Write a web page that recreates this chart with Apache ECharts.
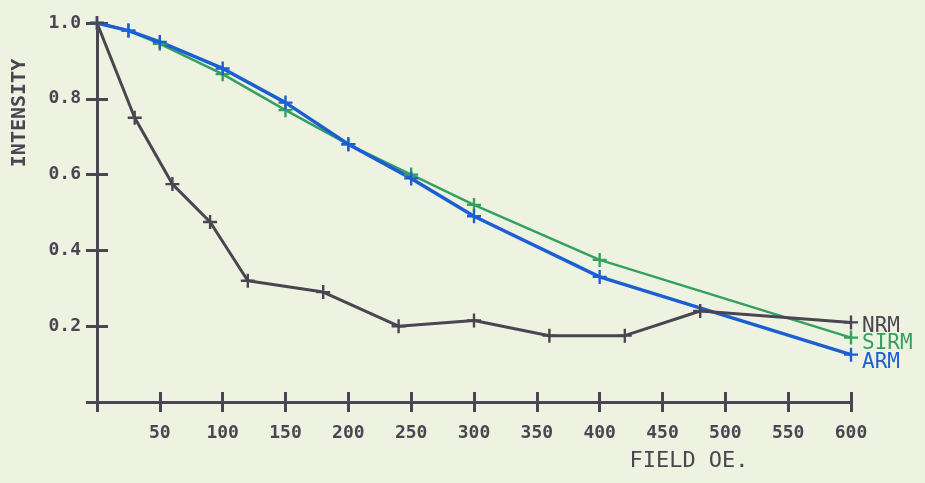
<!DOCTYPE html>
<html>
<head>
<meta charset="utf-8">
<style>
  html, body { margin: 0; padding: 0; background: #eef3e1; }
  #chart { width: 925px; height: 483px; }
</style>
<script src="https://cdn.jsdelivr.net/npm/echarts@6/dist/echarts.min.js"></script>
</head>
<body>
<div id="chart"></div>
<script>
// Alternating-field demagnetisation curves (normalised intensity vs. peak field)
const nrmField = [0, 30, 60, 90, 120, 180, 240, 300, 360, 420, 480, 600];
const nrmIntensity = [1.0, 0.75, 0.575, 0.475, 0.32, 0.29, 0.20, 0.215, 0.175, 0.175, 0.24, 0.21];

const labField = [0, 25, 50, 100, 150, 200, 250, 300, 400, 600];
const sirmIntensity = [1.0, 0.98, 0.945, 0.865, 0.77, 0.68, 0.60, 0.52, 0.375, 0.17];
const armIntensity = [1.0, 0.98, 0.95, 0.88, 0.79, 0.68, 0.59, 0.49, 0.33, 0.125];

const fieldTicks = [50, 100, 150, 200, 250, 300, 350, 400, 450, 500, 550, 600];
const intensityTicks = [0.2, 0.4, 0.6, 0.8, 1.0];

const INK = '#4a4550';
const GREEN = '#34a060';
const BLUE = '#1c5fd2';
const MONO = '"DejaVu Sans Mono", "Liberation Mono", monospace';

// plotter-style "+" marker
const PLUS = 'path://M-0.17,-1 L0.17,-1 L0.17,-0.17 L1,-0.17 L1,0.17 L0.17,0.17 L0.17,1 L-0.17,1 L-0.17,0.17 L-1,0.17 L-1,-0.17 L-0.17,-0.17 Z';

const pairs = (xs, ys) => xs.map((x, i) => [x, ys[i]]);

function curve(name, xs, ys, color, width, dy) {
  return {
    name: name,
    type: 'line',
    xAxisIndex: 0,
    yAxisIndex: 0,
    data: pairs(xs, ys),
    symbol: PLUS,
    symbolSize: 14,
    showAllSymbol: true,
    itemStyle: { color: color },
    lineStyle: { color: color, width: width },
    endLabel: {
      show: true,
      formatter: '{a}',
      color: color,
      fontFamily: MONO,
      fontSize: 21,
      distance: 11,
      offset: [0, dy]
    },
    z: 3
  };
}

const xBase = {
  type: 'value', min: 0, max: 600, interval: 50,
  splitLine: { show: false },
  position: 'bottom'
};
const yBase = {
  type: 'value', min: 0, max: 1.0, interval: 0.2,
  splitLine: { show: false },
  position: 'left'
};

const chart = echarts.init(document.getElementById('chart'), null, { renderer: 'canvas' });
chart.setOption({
  animation: false,
  backgroundColor: '#eef3e1',
  grid: { left: 97, right: 74, top: 23, bottom: 81, containLabel: false },
  xAxis: [
    Object.assign({}, xBase, {
      axisLine: { show: true, onZero: false, lineStyle: { color: INK, width: 3 } },
      axisTick: { show: false },
      axisLabel: {
        show: true, margin: 22, color: INK, fontFamily: MONO, fontWeight: 'bold', fontSize: 18,
        formatter: v => (fieldTicks.indexOf(v) >= 0 ? String(v) : '')
      }
    }),
    // companion field axis, shifted into the plot, draws ticks that cross the axis line
    Object.assign({}, xBase, {
      offset: -10,
      axisLine: { show: false },
      axisTick: { show: true, length: 20, lineStyle: { color: INK, width: 3 } },
      axisLabel: { show: false }
    })
  ],
  yAxis: [
    Object.assign({}, yBase, {
      axisLine: { show: true, onZero: false, lineStyle: { color: INK, width: 3 } },
      axisTick: { show: false },
      axisLabel: {
        show: true, margin: 16, color: INK, fontFamily: MONO, fontWeight: 'bold', fontSize: 18,
        formatter: v => {
          const hit = intensityTicks.find(t => Math.abs(t - v) < 1e-6);
          return hit !== undefined ? hit.toFixed(1) : '';
        }
      }
    }),
    Object.assign({}, yBase, {
      offset: -11,
      axisLine: { show: false },
      axisTick: { show: true, length: 22, lineStyle: { color: INK, width: 3 } },
      axisLabel: { show: false }
    })
  ],
  graphic: [
    {
      type: 'text',
      x: 20, y: 113,
      rotation: Math.PI / 2,
      style: {
        text: 'INTENSITY',
        fill: INK,
        font: 'bold 20px ' + MONO,
        textAlign: 'center',
        textVerticalAlign: 'middle'
      }
    },
    {
      type: 'text',
      x: 689, y: 461,
      style: {
        text: 'FIELD OE.',
        fill: INK,
        font: '22px ' + MONO,
        textAlign: 'center',
        textVerticalAlign: 'middle'
      }
    }
  ],
  series: [
    curve('SIRM', labField, sirmIntensity, GREEN, 2.5, 6),
    curve('ARM', labField, armIntensity, BLUE, 3.5, 8),
    curve('NRM', nrmField, nrmIntensity, INK, 3, 4)
  ]
});
</script>
</body>
</html>
